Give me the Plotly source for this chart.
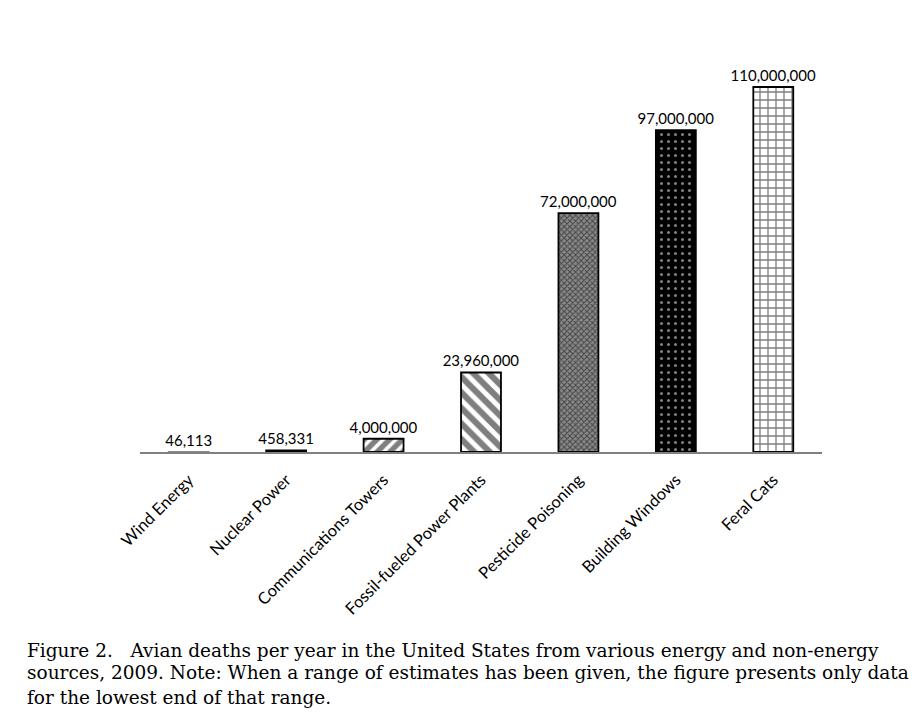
import plotly.graph_objects as go

categories = ["Wind Energy", "Nuclear Power", "Communications Towers",
              "Fossil-fueled Power Plants", "Pesticide Poisoning",
              "Building Windows", "Feral Cats"]
deaths = [46113, 458331, 4000000, 23960000, 72000000, 97000000, 110000000]
labels = ["46,113", "458,331", "4,000,000", "23,960,000", "72,000,000",
          "97,000,000", "110,000,000"]

shapes = ["", "", "/", "\\", "x", ".", "+"]
bgcolors = ["#999999", "black", "white", "white", "#8a8a8a", "black", "white"]
fgcolors = ["black", "black", "black", "black", "black", "white", "black"]
linecolors = ["#888888", "black", "black", "black", "black", "black", "black"]
sizes = [8, 8, 9, 11, 4, 7, 8]
solid = [0.3, 0.3, 0.6, 0.55, 0.45, 0.15, 0.3]

fig = go.Figure()
for i, cat in enumerate(categories):
    fig.add_trace(go.Bar(
        x=[cat], y=[deaths[i]], text=[labels[i]], textposition="outside",
        constraintext="none", cliponaxis=False,
        textfont=dict(family="Lato, Open Sans, sans-serif", size=15, color="black"),
        marker=dict(
            color=bgcolors[i],
            line=dict(color=linecolors[i], width=1.8),
            pattern=dict(shape=shapes[i], fgcolor=fgcolors[i],
                         size=sizes[i], solidity=solid[i], fillmode="overlay"),
        ),
    ))

caption_lines = [
    "Figure 2.   Avian deaths per year in the United States from various energy and non-energy",
    "sources, 2009. Note: When a range of estimates has been given, the figure presents only data",
    "for the lowest end of that range.",
]
caption_y = [-0.4806, -0.5364, -0.5947]
for line, yy in zip(caption_lines, caption_y):
    fig.add_annotation(
        xref="paper", yref="paper", x=-0.168, y=yy, xanchor="left", yanchor="middle",
        align="left", showarrow=False, text=line,
        font=dict(family="DejaVu Serif, serif", size=18.5, color="black"),
    )

fig.update_layout(
    width=924, height=714,
    margin=dict(l=132, r=110, t=32, b=270),
    paper_bgcolor="white", plot_bgcolor="white",
    barmode="overlay", bargap=0.59, showlegend=False,
    xaxis=dict(showline=True, linecolor="#808080", linewidth=1.5,
               ticks="outside", ticklen=10, tickcolor="rgba(0,0,0,0)",
               tickangle=-45,
               tickfont=dict(family="Lato, Open Sans, sans-serif", size=16.5, color="black"),
               showgrid=False),
    yaxis=dict(range=[0, 124.16e6], visible=False, showgrid=False),
)

fig.write_html("out.html")
